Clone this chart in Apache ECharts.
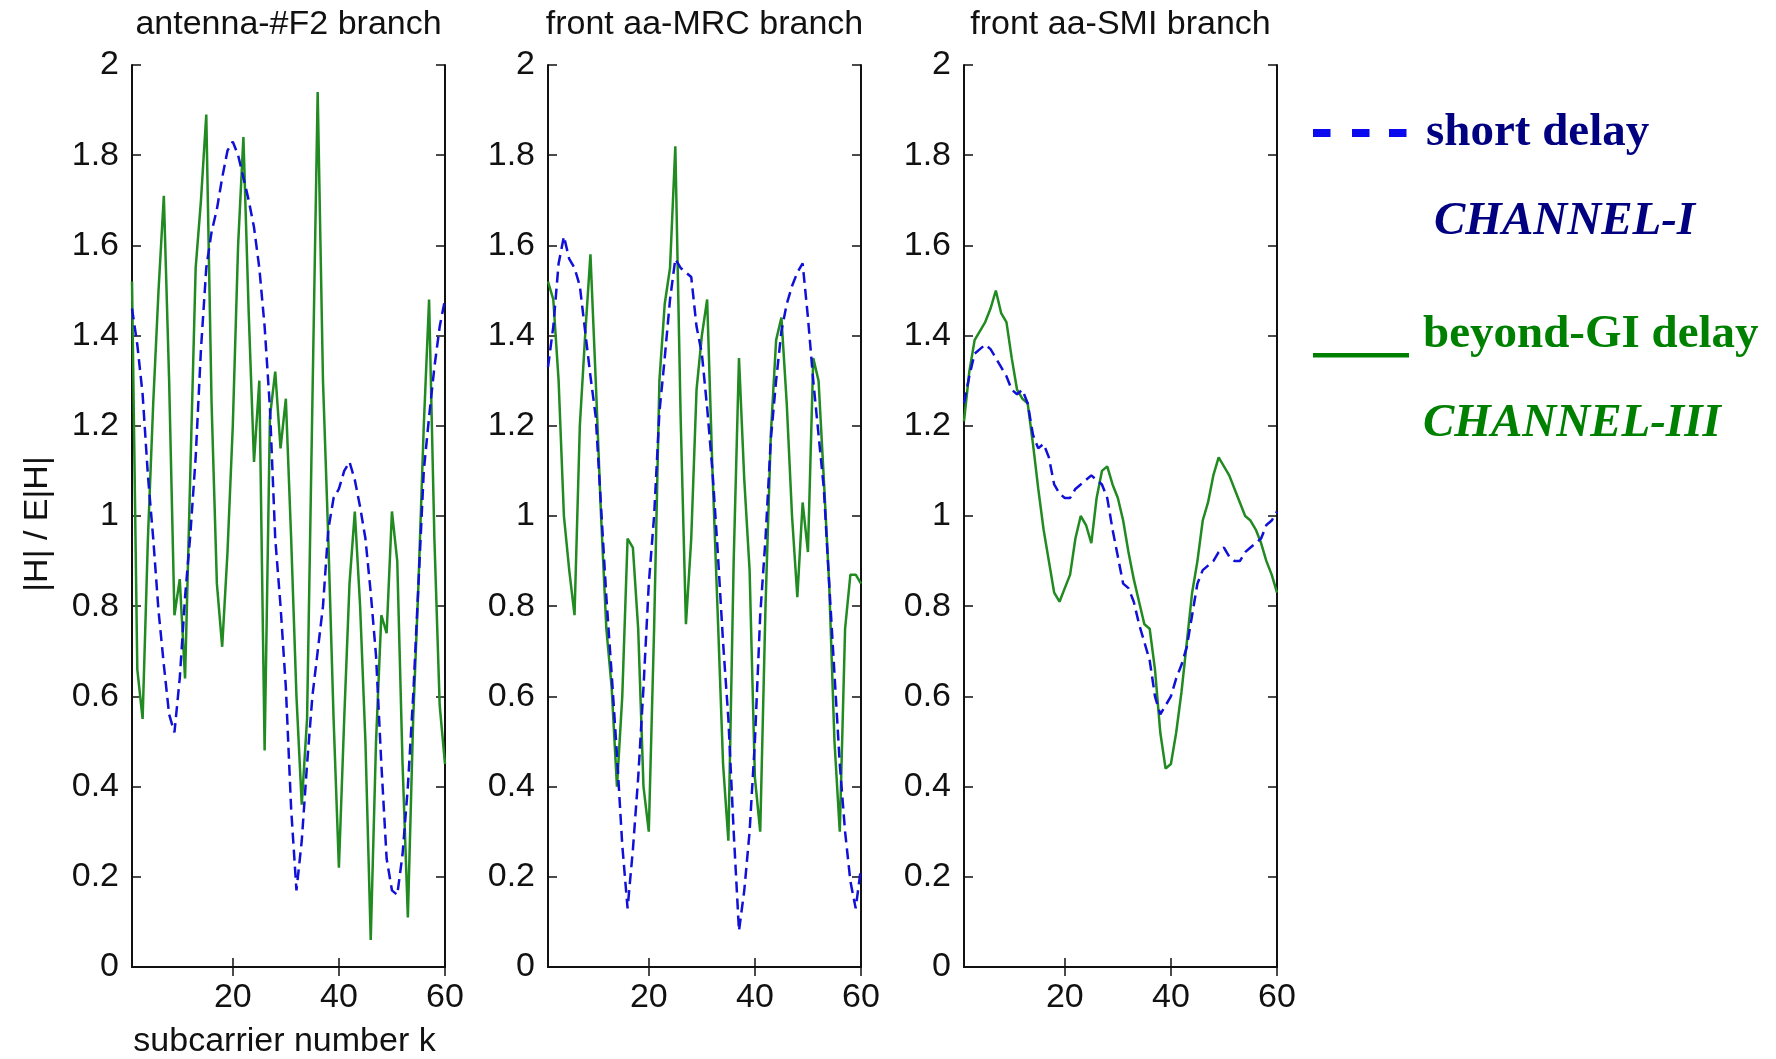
<!DOCTYPE html>
<html>
<head>
<meta charset="utf-8">
<script src="https://cdn.jsdelivr.net/npm/echarts@6/dist/echarts.min.js"></script>
<style>
  html, body { margin: 0; padding: 0; background: #fff; }
  #chart { width: 1776px; height: 1059px; }
</style>
</head>
<body>
<div id="chart"></div>
<script>
// Subcarrier index k
const subcarrier = [1,2,3,4,5,6,7,8,9,10,11,12,13,14,15,16,17,18,19,20,
  21,22,23,24,25,26,27,28,29,30,31,32,33,34,35,36,37,38,39,40,
  41,42,43,44,45,46,47,48,49,50,51,52,53,54,55,56,57,58,59,60];

// |H| / E|H| per branch: short delay (CHANNEL-I) and beyond-GI delay (CHANNEL-III)
const f2Short = [1.46,1.38,1.27,1.09,0.95,0.79,0.67,0.56,0.52,0.64,
  0.82,0.96,1.13,1.37,1.55,1.63,1.68,1.75,1.81,1.83,
  1.80,1.75,1.70,1.64,1.55,1.42,1.24,0.95,0.80,0.62,
  0.35,0.17,0.28,0.45,0.60,0.70,0.80,0.97,1.04,1.06,
  1.10,1.12,1.08,1.02,0.95,0.83,0.69,0.45,0.24,0.17,
  0.16,0.25,0.40,0.60,0.85,1.10,1.22,1.33,1.42,1.48];
const f2Beyond = [1.52,0.66,0.55,0.95,1.25,1.50,1.71,1.30,0.78,0.86,
  0.64,1.10,1.55,1.70,1.89,1.25,0.85,0.71,0.92,1.20,
  1.60,1.84,1.45,1.12,1.30,0.48,1.22,1.32,1.15,1.26,
  0.95,0.60,0.36,0.55,1.25,1.94,1.30,0.95,0.55,0.22,
  0.55,0.85,1.01,0.80,0.50,0.06,0.50,0.78,0.74,1.01,
  0.90,0.45,0.11,0.55,0.85,1.20,1.48,0.95,0.58,0.45];

const mrcShort = [1.33,1.42,1.56,1.62,1.57,1.55,1.51,1.41,1.31,1.22,
  1.02,0.82,0.65,0.47,0.27,0.13,0.26,0.42,0.62,0.85,
  1.00,1.23,1.35,1.48,1.57,1.55,1.54,1.53,1.42,1.36,
  1.24,1.10,0.92,0.72,0.55,0.30,0.08,0.17,0.30,0.50,
  0.78,0.95,1.17,1.30,1.41,1.47,1.51,1.54,1.56,1.44,
  1.30,1.18,1.06,0.85,0.65,0.45,0.30,0.19,0.13,0.22];
const mrcBeyond = [1.52,1.48,1.30,1.00,0.88,0.78,1.20,1.40,1.58,1.30,
  1.00,0.75,0.62,0.40,0.60,0.95,0.93,0.75,0.40,0.30,
  0.75,1.30,1.47,1.55,1.82,1.22,0.76,0.95,1.28,1.40,
  1.48,1.10,0.78,0.45,0.28,0.90,1.35,1.08,0.88,0.42,
  0.30,0.80,1.18,1.39,1.44,1.25,1.00,0.82,1.03,0.92,
  1.35,1.30,1.08,0.85,0.50,0.30,0.75,0.87,0.87,0.85];

const smiShort = [1.25,1.31,1.36,1.37,1.38,1.37,1.35,1.33,1.31,1.28,
  1.27,1.28,1.25,1.18,1.15,1.16,1.13,1.07,1.05,1.04,
  1.04,1.06,1.07,1.08,1.09,1.08,1.07,1.04,0.97,0.91,
  0.85,0.84,0.81,0.76,0.72,0.68,0.60,0.56,0.58,0.60,
  0.64,0.67,0.71,0.78,0.85,0.88,0.89,0.90,0.92,0.93,
  0.91,0.90,0.90,0.92,0.93,0.94,0.95,0.98,0.99,1.01];
const smiBeyond = [1.21,1.32,1.39,1.41,1.43,1.46,1.50,1.45,1.43,1.35,
  1.28,1.26,1.25,1.16,1.06,0.97,0.90,0.83,0.81,0.84,
  0.87,0.95,1.00,0.98,0.94,1.04,1.10,1.11,1.07,1.04,
  0.99,0.92,0.86,0.81,0.76,0.75,0.66,0.52,0.44,0.45,
  0.52,0.61,0.72,0.83,0.90,0.99,1.03,1.09,1.13,1.11,
  1.09,1.06,1.03,1.00,0.99,0.97,0.94,0.90,0.87,0.83];

const panelTitles = ['antenna-#F2 branch', 'front aa-MRC branch', 'front aa-SMI branch'];
const xTickValues = [20, 40, 60];
const panelSeries = [[f2Short, f2Beyond], [mrcShort, mrcBeyond], [smiShort, smiBeyond]];

const BLUE = '#1010d8';
const GREEN = '#218a21';
const AXIS = '#111';
const SANS = '"Liberation Sans", Arial, sans-serif';
const SERIF = '"Liberation Serif", "Times New Roman", serif';

const panelLeft = [132, 548, 964];
const panelWidth = 313;
const panelTop = 65;
const panelHeight = 902;

const grids = [], xAxes = [], yAxes = [], series = [], graphics = [];

const tickStyle = { inside: true, length: 9, lineStyle: { color: AXIS, width: 1.5 } };
const lineStyle = { show: true, lineStyle: { color: AXIS, width: 2 } };

panelLeft.forEach((left, i) => {
  grids.push({ left: left, top: panelTop, width: panelWidth, height: panelHeight, containLabel: false });
  // bottom / left axes carry the labels
  xAxes.push({
    type: 'value', gridIndex: i, min: 1, max: 60, position: 'bottom',
    axisLine: lineStyle, splitLine: { show: false },
    axisTick: Object.assign({ customValues: xTickValues }, tickStyle),
    axisLabel: { customValues: xTickValues, color: '#111', fontFamily: SANS, fontSize: 34, margin: 14 }
  });
  // top / right mirror axes close the box
  xAxes.push({
    type: 'value', gridIndex: i, min: 1, max: 60, position: 'top',
    axisLine: lineStyle, splitLine: { show: false },
    axisTick: Object.assign({ customValues: xTickValues }, tickStyle),
    axisLabel: { show: false }
  });
  yAxes.push({
    type: 'value', gridIndex: i, min: 0, max: 2, interval: 0.2, position: 'left',
    axisLine: lineStyle, splitLine: { show: false },
    axisTick: tickStyle,
    axisLabel: { color: '#111', fontFamily: SANS, fontSize: 34, margin: 13,
      formatter: v => String(Math.round(v * 10) / 10) }
  });
  yAxes.push({
    type: 'value', gridIndex: i, min: 0, max: 2, interval: 0.2, position: 'right',
    axisLine: lineStyle, splitLine: { show: false },
    axisTick: tickStyle, axisLabel: { show: false }
  });

  const [shortVals, beyondVals] = panelSeries[i];
  series.push({
    type: 'line', xAxisIndex: 2 * i, yAxisIndex: 2 * i, name: 'beyond-GI delay',
    data: subcarrier.map((k, j) => [k, beyondVals[j]]),
    showSymbol: false, silent: true, z: 2,
    lineStyle: { color: GREEN, width: 2.5 }
  });
  series.push({
    type: 'line', xAxisIndex: 2 * i, yAxisIndex: 2 * i, name: 'short delay',
    data: subcarrier.map((k, j) => [k, shortVals[j]]),
    showSymbol: false, silent: true, z: 3,
    lineStyle: { color: BLUE, width: 2.5, type: [11, 6] }
  });

  graphics.push({
    type: 'text', x: left + panelWidth / 2, y: 25,
    style: { text: panelTitles[i], font: '34px ' + SANS, fill: '#111',
      textAlign: 'center', textVerticalAlign: 'middle' }
  });
});

// axis titles
graphics.push({
  type: 'text', x: 38, y: 524, rotation: Math.PI / 2,
  style: { text: '|H| / E|H|', font: '34px ' + SANS, fill: '#111',
    textAlign: 'center', textVerticalAlign: 'middle' }
});
graphics.push({
  type: 'text', x: panelLeft[0] + panelWidth / 2 - 4, y: 1042,
  style: { text: 'subcarrier number k', font: '34px ' + SANS, fill: '#111',
    textAlign: 'center', textVerticalAlign: 'middle' }
});

// legend block
[1313, 1352, 1389].forEach(x => graphics.push({
  type: 'rect', shape: { x: x, y: 129, width: 17.5, height: 8 }, style: { fill: '#0a0aee' }
}));
graphics.push({ type: 'rect', shape: { x: 1313, y: 353, width: 96, height: 4.5 }, style: { fill: '#008000' } });
const legendText = [
  { text: 'short delay', x: 1426, y: 133, style: 'bold', color: '#000080' },
  { text: 'CHANNEL-I', x: 1434, y: 222, style: 'italic bold', color: '#000080' },
  { text: 'beyond-GI delay', x: 1423, y: 335, style: 'bold', color: '#008000' },
  { text: 'CHANNEL-III', x: 1423, y: 424, style: 'italic bold', color: '#008000' }
];
legendText.forEach(t => graphics.push({
  type: 'text', x: t.x, y: t.y,
  style: { text: t.text, font: t.style + ' 47px ' + SERIF, fill: t.color,
    textAlign: 'left', textVerticalAlign: 'middle' }
}));

const chart = echarts.init(document.getElementById('chart'), null, { renderer: 'canvas' });
chart.setOption({
  animation: false,
  backgroundColor: '#fff',
  grid: grids,
  xAxis: xAxes,
  yAxis: yAxes,
  series: series,
  graphic: graphics
});
</script>
</body>
</html>
